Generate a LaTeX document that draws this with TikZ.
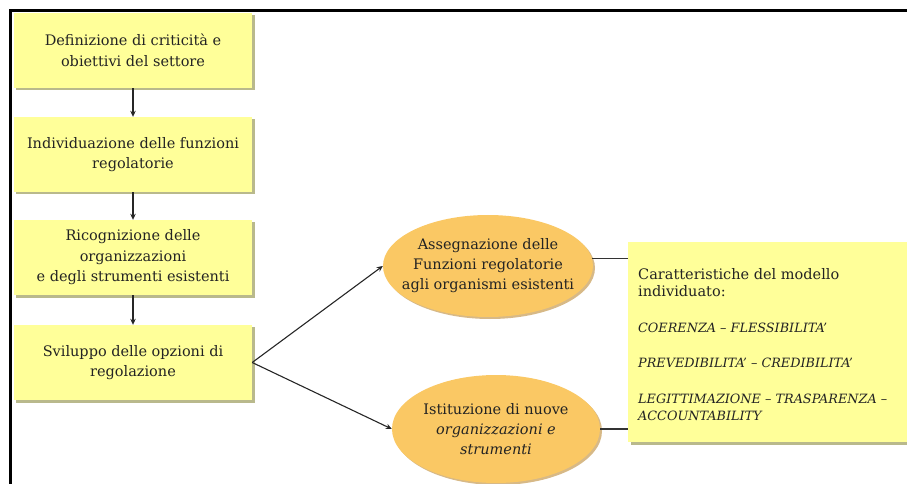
\documentclass[tikz,border=0pt]{standalone}
\usepackage{fontspec}
\setmainfont{DejaVu Serif}
\usetikzlibrary{arrows.meta,shapes.geometric,shadows}
\definecolor{boxfill}{RGB}{255,255,153}
\definecolor{boxshadow}{RGB}{185,185,140}
\definecolor{ellfill}{RGB}{250,200,100}
\definecolor{ellshadow}{RGB}{215,185,135}
\definecolor{txt}{RGB}{35,35,35}
\newcommand{\capsfont}{\fontsize{12.8bp}{16bp}\selectfont\itshape}
\begin{document}
\begin{tikzpicture}[x=1bp,y=-1bp,
  stepbox/.style={rectangle, fill=boxfill, minimum width=238bp, minimum height=75bp,
    align=center, inner sep=2bp, text=txt, font=\fontsize{14.5bp}{20.5bp}\selectfont,
    drop shadow={shadow xshift=2.5bp, shadow yshift=-2.5bp, fill=boxshadow, opacity=1}},
  ellbox/.style={ellipse, fill=ellfill, inner sep=0pt,
    drop shadow={shadow xshift=2bp, shadow yshift=-2bp, fill=ellshadow, opacity=1}},
  elltext/.style={align=center, inner sep=0pt, text=txt,
    font=\fontsize{14.5bp}{20bp}\selectfont},
  flowarrow/.style={draw=black!85, line width=1.1bp, -{Stealth[length=6bp,width=5.5bp]}},
  plainline/.style={draw=black!80, line width=1.1bp},
  frameline/.style={draw=black, line width=3bp}
]
\useasboundingbox (0,0) rectangle (907,484);
\clip (0,0) rectangle (907,484);

\draw[frameline] (10.5,484) -- (10.5,11) -- (907,11);

\node[stepbox] (b1) at (133,50.5) {Definizione di criticità e\\obiettivi del settore};
\node[stepbox] (b2) at (133,154.5) {Individuazione delle funzioni\\regolatorie};
\node[stepbox] (b3) at (133,257.5) {Ricognizione delle\\organizzazioni\\e degli strumenti esistenti};
\node[stepbox] (b4) at (133,362.5) {Sviluppo delle opzioni di\\regolazione};

\node[ellbox, minimum width=210bp, minimum height=102bp] (e1) at (488,266) {};
\node[elltext] (e1t) at (e1.center) {Assegnazione delle\\Funzioni regolatorie\\agli organismi esistenti};
\node[ellbox, minimum width=208bp, minimum height=108bp] (e2) at (496,429) {};
\node[elltext] (e2t) at (496,429) {Istituzione di nuove\\\textit{organizzazioni e}\\\textit{strumenti}};

\node[stepbox, minimum width=290bp, minimum height=200bp] (b5) at (773,342) {};
\node[anchor=north west, align=left, inner sep=0pt, text=txt,
  font=\fontsize{14.5bp}{17.5bp}\selectfont] (t5) at (638,268)
  {Caratteristiche del modello\\individuato:\\[18bp]
   \capsfont COERENZA -- FLESSIBILITA'\\[18bp]
   \capsfont PREVEDIBILITA' -- CREDIBILITA'\\[18bp]
   \capsfont LEGITTIMAZIONE -- TRASPARENZA --\\
   \capsfont ACCOUNTABILITY};

\draw[flowarrow] (b1.south) -- (b2.north);
\draw[flowarrow] (b2.south) -- (b3.north);
\draw[flowarrow] (b3.south) -- (b4.north);
\draw[flowarrow] (b4.east) -- (e1.west);
\draw[flowarrow] (b4.east) -- (e2.west);
\draw[plainline] (e1.4) -- (e1.4 -| b5.west);
\draw[plainline] (e2.east) -- (e2.east -| b5.west);
\end{tikzpicture}
\end{document}
